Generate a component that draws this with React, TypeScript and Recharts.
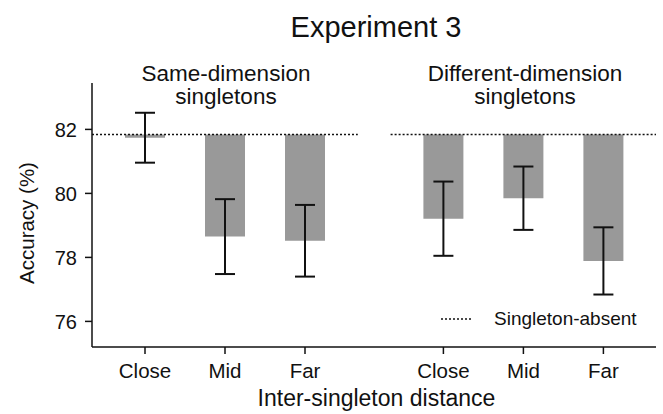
import {
  ComposedChart,
  Bar,
  Scatter,
  ErrorBar,
  XAxis,
  YAxis,
  ReferenceLine,
  Legend,
} from "recharts";

const categories = ["Close", "Mid", "Far"];
const groupTitles = [
  ["Same-dimension", "singletons"],
  ["Different-dimension", "singletons"],
];
const sameMeans = [81.74, 78.65, 78.52];
const sameErrors = [0.78, 1.17, 1.12];
const diffMeans = [79.21, 79.85, 77.89];
const diffErrors = [1.16, 0.99, 1.05];
const singletonAbsent = 81.84;
const yTicks = [76, 78, 80, 82];

// x layout: categories sit 1 unit apart, second group shifted by groupStride
const groupStride = 3.73;
const xDomain: [number, number] = [0.3375, 7.3875];
const lineGap = 0.66;

const INK = "#111";
const FONT = "'Liberation Sans', Arial, Helvetica, sans-serif";

const rows = [sameMeans, diffMeans].flatMap((means, g) =>
  means.map((m, i) => ({
    x: g * groupStride + i + 1,
    label: categories[i],
    range: [singletonAbsent, m],
    mean: m,
    err: (g === 0 ? sameErrors : diffErrors)[i],
  })),
);

const xTicks = rows.map((r) => r.x);
const tickLabel = (v: number) => rows.find((r) => Math.abs(r.x - v) < 1e-6)?.label ?? "";

function LegendContent() {
  return (
    <div style={{ display: "flex", alignItems: "center", lineHeight: "22px", fontSize: 19, color: INK }}>
      <svg width={30} height={4}>
        <line x1={0} y1={2} x2={30} y2={2} stroke={INK} strokeWidth={1.5} strokeDasharray="2 2" />
      </svg>
      <span style={{ marginLeft: 23 }}>Singleton-absent</span>
    </div>
  );
}

export default function App() {
  const groupCenters = [226, 525];
  return (
    <div style={{ position: "relative", width: 663, height: 414, fontFamily: FONT, background: "#fff" }}>
      <style>{"body{margin:0}"}</style>
      <ComposedChart
        width={663}
        height={414}
        data={rows}
        margin={{ top: 83, right: 7, bottom: 0, left: 0 }}
      >
        <XAxis
          type="number"
          dataKey="x"
          domain={xDomain}
          ticks={xTicks}
          tickFormatter={tickLabel}
          allowDataOverflow
          height={67}
          tickSize={7}
          tickMargin={9}
          axisLine={{ stroke: INK, strokeWidth: 1.5 }}
          tickLine={{ stroke: INK, strokeWidth: 1.5 }}
          tick={{ fill: INK, fontSize: 20.5 }}
        />
        <YAxis
          type="number"
          domain={[75.2, 83.45]}
          ticks={yTicks}
          allowDataOverflow
          width={92}
          tickSize={7}
          tickMargin={8}
          axisLine={{ stroke: INK, strokeWidth: 1.5 }}
          tickLine={{ stroke: INK, strokeWidth: 1.5 }}
          tick={{ fill: INK, fontSize: 20 }}
        />
        <Bar dataKey="range" fill="#999999" barSize={40} isAnimationActive={false} legendType="none" />
        <ReferenceLine
          segment={[
            { x: xDomain[0], y: singletonAbsent },
            { x: 3 + lineGap, y: singletonAbsent },
          ]}
          stroke={INK}
          strokeWidth={1.5}
          strokeDasharray="2 2"
        />
        <ReferenceLine
          segment={[
            { x: groupStride + 1 - lineGap, y: singletonAbsent },
            { x: xDomain[1], y: singletonAbsent },
          ]}
          stroke={INK}
          strokeWidth={1.5}
          strokeDasharray="2 2"
        />
        <Scatter dataKey="mean" shape={() => <g />} isAnimationActive={false} legendType="none">
          <ErrorBar dataKey="err" direction="y" width={10} stroke={INK} strokeWidth={2} />
        </Scatter>
        <Legend
          layout="vertical"
          align="center"
          verticalAlign="middle"
          content={<LegendContent />}
          wrapperStyle={{ left: 441, top: 308, width: 220 }}
        />
      </ComposedChart>
      <svg
        width={663}
        height={414}
        style={{ position: "absolute", left: 0, top: 0, pointerEvents: "none" }}
        fontFamily={FONT}
        fill={INK}
      >
        <text x={376} y={37} fontSize={29} textAnchor="middle">
          Experiment 3
        </text>
        {groupTitles.map((lines, g) =>
          lines.map((t, k) => (
            <text key={`${g}-${k}`} x={groupCenters[g]} y={81 + k * 23} fontSize={22.5} textAnchor="middle">
              {t}
            </text>
          )),
        )}
        <text x={376.5} y={406} fontSize={23} textAnchor="middle">
          Inter-singleton distance
        </text>
        <text transform="translate(33.5,223) rotate(-90)" fontSize={20.5} textAnchor="middle">
          Accuracy (%)
        </text>
      </svg>
    </div>
  );
}
